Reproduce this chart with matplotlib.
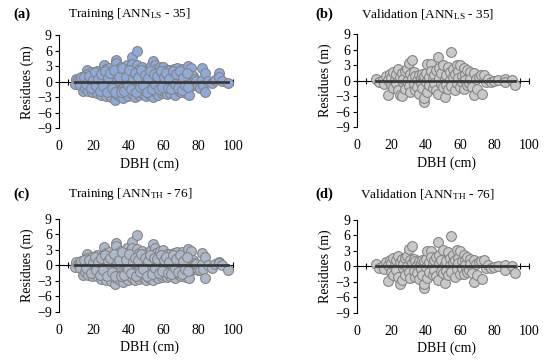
import matplotlib
matplotlib.use("Agg")
import matplotlib.pyplot as plt
from matplotlib.ticker import MultipleLocator

plt.rcParams['font.family'] = ['Liberation Serif', 'DejaVu Serif']
plt.rcParams['mathtext.fontset'] = 'custom'
plt.rcParams['mathtext.rm'] = 'Liberation Serif'
plt.rcParams['mathtext.it'] = 'Liberation Serif:italic'

# training set (shared DBH), residuals for ANN_LS and ANN_TH
dbh_train = [9, 10, 11, 12, 12, 13, 14, 15, 15, 16, 16, 16, 17, 17, 18, 18, 19, 19, 20, 20,
             21, 21, 22, 22, 23, 23, 24, 24, 25, 25, 26, 26, 26, 27, 27, 27, 28, 28, 29, 29,
             29, 30, 30, 30, 31, 31, 31, 32, 32, 32, 33, 33, 33, 33, 34, 34, 34, 35, 35, 35,
             36, 36, 36, 37, 37, 37, 38, 38, 38, 39, 39, 39, 40, 40, 40, 41, 41, 41, 42, 42,
             42, 43, 43, 43, 44, 44, 44, 45, 45, 45, 46, 46, 46, 47, 47, 47, 48, 48, 48, 49,
             49, 49, 50, 50, 50, 51, 51, 51, 52, 52, 52, 53, 53, 53, 54, 54, 54, 55, 55, 55,
             56, 56, 56, 57, 57, 57, 58, 58, 58, 59, 59, 59, 60, 60, 60, 61, 61, 62, 62, 62,
             63, 63, 64, 64, 64, 65, 65, 66, 66, 67, 67, 67, 68, 68, 69, 69, 70, 70, 70, 71,
             71, 72, 72, 73, 73, 74, 74, 75, 75, 76, 76, 77, 78, 78, 79, 80, 81, 82, 82, 83,
             84, 84, 86, 88, 90, 92, 92, 94, 97,
             14.5, 15.5, 17.5, 18.5, 19.5, 20.5, 21.5, 22.5, 23.5, 24.5, 25.5, 26.5, 27.5, 28.5, 29.5,
             30.5, 31.5, 32.5, 33.5, 34.5, 35.5, 36.5, 37.5, 38.5, 39.5, 40.5, 41.5, 42.5, 43.5, 44.5,
             45.5, 46.5, 47.5, 48.5, 49.5, 50.5, 51.5, 52.5, 53.5, 54.5, 55.5, 56.5, 57.5, 58.5, 59.5,
             60.5, 61.5, 62.5, 63.5, 64.5, 65.5, 66.5, 67.5, 68.5, 69.5, 70.5, 71.5, 72.5, 73.5, 74.5]
res_train_ls = [-0.4, 0.5, 0.3, 0.4, -0.6, 1.0, -1.7, 0.8, -1.2, 2.3, 1.5, -0.3, 0.2, -1.8, 1.1, -0.9, 1.8, -2.0, 0.6, -1.4,
                1.4, -0.5, 2.0, -2.2, 0.2, 1.0, -1.0, -2.5, 1.7, 0.4, 3.3, -1.6, -0.2, 2.4, 0.9, -2.7, -1.1, 1.5, 0.0, -2.0,
                2.6, 1.2, -0.7, -2.9, 2.1, 0.5, -1.6, -3.5, 1.8, -0.3, 4.2, 3.7, 0.9, -2.4, -1.0, 2.5, 0.2, 1.4, -1.8, -2.8,
                2.9, 0.7, -0.6, -3.1, 1.9, -1.3, 0.1, 2.3, -2.2, 3.2, 1.0, -0.8, -2.7, 1.6, -0.2, 2.7, 0.5, -1.5, 4.8, 3.4,
                -2.3, 1.2, -0.5, 2.0, -1.9, 0.8, -2.9, 6.0, 3.2, 1.5, -0.9, 2.4, -2.5, 0.3, 1.8, -1.4, 2.9, -0.1, -2.1, 1.1,
                -1.0, 0.6, 2.2, -2.7, -0.4, 1.5, -1.7, 0.1, 2.6, -0.8, -2.3, 3.0, 0.9, -1.3, 4.0, -2.9, 0.4, 3.3, 1.7, -1.0,
                -2.0, 0.7, 2.4, -0.3, 1.3, -2.6, 2.8, -1.5, 0.2, 1.0, -0.7, -2.2, 2.9, 0.5, -1.8, 1.9, -0.2, -2.4, 1.2, 2.3,
                -1.1, 0.4, 2.2, -2.1, 0.9, 1.6, -0.6, -1.6, 2.4, 0.3, -2.5, 1.2, 2.6, -0.9, 0.8, -1.8, 1.8, -0.3, -2.0, 2.5,
                0.5, -1.3, 1.3, 0.0, -2.2, 3.0, 1.0, -2.5, 0.4, 2.7, -0.8, 1.1, -0.4, 0.6, 0.2, -0.9, -1.2, 2.7, 0.3, -0.6,
                1.7, -1.9, 0.1, -0.2, 0.3, 1.6, 1.0, 0.2, -0.2,
                0.9, -0.4, 1.2, -1.3, 0.3, 1.8, -0.9, 0.6, -1.7, 1.5, -0.8, 2.0, -1.9, 0.7, 1.6,
                -1.2, 2.2, -1.9, 0.4, 1.0, -2.0, 2.6, -1.7, 1.0, -0.6, 2.2, -1.4, 0.5, 1.6, -2.0,
                1.0, -1.1, 2.2, -0.6, 1.3, -1.9, 0.8, 2.0, -1.5, 1.5, -0.5, 1.2, -1.4, 2.0, -1.0,
                0.9, 1.7, -1.3, 0.6, -1.5, 2.0, -0.4, 1.4, -1.2, 2.1, -1.6, 0.8, -0.6, 1.7, -1.0]
res_train_th = [-0.3, 0.6, 0.3, 0.5, -0.5, 0.9, -1.9, 0.7, -1.3, 2.1, 1.4, -0.2, 0.3, -1.9, 1.2, -1.0, 1.7, -2.0, 0.5, -1.5,
                1.3, -0.6, 1.9, -2.1, 0.3, 1.1, -1.1, -2.6, 1.8, 0.5, 3.5, -1.7, -0.3, 2.3, 1.0, -2.8, -1.2, 1.4, 0.1, -2.1,
                2.5, 1.3, -0.8, -3.0, 2.0, 0.6, -1.7, -3.6, 1.9, -0.2, 4.3, 3.7, 1.0, -2.5, -1.1, 2.4, 0.3, 1.5, -1.9, -2.9,
                2.8, 0.8, -0.5, -3.2, 2.0, -1.4, 0.2, 2.2, -2.3, 3.3, 1.1, -0.9, -2.8, 1.7, -0.1, 2.8, 0.6, -1.6, 4.5, 3.3,
                -2.4, 1.3, -0.4, 1.9, -2.0, 0.9, -2.9, 5.9, 3.1, 1.6, -1.0, 2.3, -2.6, 0.4, 1.7, -1.5, 2.8, 0.0, -2.2, 1.2,
                -1.1, 0.7, 2.1, -2.8, -0.5, 1.4, -1.8, 0.2, 2.5, -0.9, -2.4, 2.9, 1.0, -1.4, 4.2, -2.8, 0.5, 3.4, 1.8, -1.1,
                -2.1, 0.8, 2.3, -0.2, 1.4, -2.5, 2.7, -1.6, 0.3, 1.1, -0.8, -2.3, 3.0, 0.6, -1.9, 1.8, -0.1, -2.3, 1.3, 2.2,
                -1.2, 0.5, 2.1, -2.0, 1.0, 1.5, -0.7, -1.7, 2.3, 0.4, -2.4, 1.3, 2.5, -1.0, 0.9, -1.9, 1.7, -0.2, -2.1, 2.6,
                0.6, -1.4, 1.2, 0.1, -2.3, 3.1, 1.1, -2.4, 0.5, 2.8, -0.9, 1.0, -0.5, 0.5, 0.3, -1.0, -0.9, 2.3, 0.2, -0.7,
                1.6, -2.4, 0.0, -0.5, 0.2, 0.7, 0.5, 0.1, -1.0,
                1.0, -0.5, 1.1, -1.4, 0.4, 1.7, -1.0, 0.7, -1.8, 1.4, -0.9, 1.9, -2.0, 0.8, 1.5,
                -1.3, 2.1, -2.0, 0.5, 1.1, -2.1, 2.5, -1.8, 1.1, -0.7, 2.1, -1.5, 0.6, 1.5, -2.1,
                1.1, -1.2, 2.1, -0.7, 1.4, -2.0, 0.9, 1.9, -1.6, 1.4, -0.6, 1.3, -1.5, 1.9, -1.1,
                1.0, 1.6, -1.4, 0.7, -1.6, 1.9, -0.5, 1.3, -1.3, 2.0, -1.7, 0.9, -0.7, 1.6, -1.1]

# validation set (shared DBH), residuals for ANN_LS and ANN_TH
dbh_val = [11, 13, 15, 16, 17, 18, 18, 19, 20, 20, 21, 21, 22, 23, 23, 24, 24, 25, 25, 26,
           26, 27, 27, 28, 28, 29, 29, 30, 30, 31, 31, 32, 32, 33, 33, 34, 34, 35, 35, 36,
           36, 37, 37, 38, 38, 39, 39, 39, 40, 40, 41, 41, 42, 42, 43, 43, 44, 44, 45, 45,
           46, 46, 47, 47, 48, 48, 49, 49, 50, 50, 51, 51, 52, 52, 53, 53, 54, 54, 55, 55,
           56, 56, 57, 57, 58, 58, 59, 59, 60, 60, 61, 61, 62, 62, 63, 63, 64, 64, 65, 66,
           66, 67, 68, 68, 69, 70, 71, 72, 73, 74, 75, 76, 78, 80, 82, 86, 86, 90, 92]
res_val_ls = [0.3, -0.2, 0.2, -0.6, 0.9, -2.7, 0.1, 1.3, -0.9, 0.6, 1.7, -1.5, 0.2, 1.2, -0.5, 2.2, -1.9, -2.7, 0.8, -2.9,
              1.5, -0.3, 0.4, 1.8, -1.6, 2.2, 0.0, 3.4, -1.0, 1.2, -2.2, 4.0, 0.5, -0.7, 1.6, -1.9, 0.9, 0.2, -1.2, 1.1,
              -2.5, 0.6, -0.4, 1.3, -1.5, -4.1, -3.4, 0.9, -0.2, 1.5, 3.3, -2.2, 0.8, -0.9, 3.2, 1.9, -1.5, 0.3, 1.1, -0.5,
              2.0, -1.8, 4.6, -2.6, 0.6, 2.4, -0.7, 1.4, 3.1, -1.2, -3.1, 0.4, 1.0, -0.8, 2.6, -1.6, 0.2, 1.7, 5.6, -1.0,
              2.3, 0.8, -1.9, 1.2, 3.0, -0.4, 1.8, 0.5, 3.1, -1.3, 0.9, -0.2, 2.4, -1.6, 1.3, 0.1, 2.0, -0.9, -0.5, 1.6,
              0.4, -1.2, -2.8, 1.4, 0.3, -1.6, 0.7, 1.0, -2.5, 1.1, -0.3, 0.4, -0.2, 0.0, 0.2, 0.4, -0.2, 0.1, -0.8]
res_val_th = [0.4, -0.3, 0.1, -0.5, 0.8, -2.8, 0.2, 1.2, -1.0, 0.7, 1.6, -1.6, 0.3, 1.3, -0.6, 2.0, -2.0, -3.4, 0.9, -2.6,
              1.4, -0.4, 0.5, 1.7, -1.7, 2.1, 0.1, 3.3, -1.1, 1.3, -2.3, 3.9, 0.6, -0.8, 1.5, -2.0, 1.0, 0.3, -1.3, 1.0,
              -2.4, 0.7, -0.5, 1.2, -1.6, -4.2, -3.5, 1.0, -0.1, 1.4, 3.0, -2.3, 0.9, -1.0, 3.0, 1.8, -1.6, 0.4, 1.2, -0.6,
              1.9, -1.9, 4.7, -2.7, 0.7, 2.3, -0.8, 1.3, 3.2, -1.3, -3.2, 0.5, 1.1, -0.9, 2.8, -1.7, 0.3, 1.6, 5.9, -1.1,
              2.2, 0.9, -2.0, 1.3, 3.2, -0.5, 1.7, 0.6, 3.0, -1.4, 1.0, -0.3, 2.3, -1.5, 1.2, 0.2, 1.9, -1.0, -0.6, 1.5,
              0.5, -1.3, -3.0, 1.3, 0.4, -1.7, 0.8, 1.1, -2.5, 1.2, -0.4, 0.3, -0.3, -0.1, 0.1, 0.3, -0.6, 0.0, -1.3]

panels = [
    ('(a)', 'Training [ANN$_{\\mathrm{LS}}$ - 35]', dbh_train, res_train_ls, '#8eaadb'),
    ('(b)', 'Validation [ANN$_{\\mathrm{LS}}$ - 35]', dbh_val, res_val_ls, '#c9c9c9'),
    ('(c)', 'Training [ANN$_{\\mathrm{TH}}$ - 76]', dbh_train, res_train_th, '#adb9ca'),
    ('(d)', 'Validation [ANN$_{\\mathrm{TH}}$ - 76]', dbh_val, res_val_th, '#c9c9c9'),
]
# axes rectangles in figure fraction
rects = [
    (0.107, 0.638, 0.329, 0.270),
    (0.649, 0.641, 0.325, 0.270),
    (0.107, 0.128, 0.329, 0.270),
    (0.649, 0.125, 0.325, 0.270),
]
# panel tag / title anchor positions (figure fraction)
tag_pos = [(0.024, 0.960), (0.573, 0.960), (0.024, 0.460), (0.573, 0.460)]
title_x = [0.236, 0.777, 0.236, 0.777]

fig = plt.figure(figsize=(5.5, 3.6), dpi=100)
for (tag, title, x, y, fc), rect, tp, tx in zip(panels, rects, tag_pos, title_x):
    ax = fig.add_axes(rect)
    ax.scatter(x, y, s=50, facecolor=fc, edgecolor='#858585', linewidth=0.8, zorder=2)
    ax.plot([min(x), max(x)], [0, 0], color='#3a3a3a', linewidth=2.0, zorder=3)
    ax.set_xlim(0, 104)
    ax.set_ylim(-9.4, 9.4)
    for s in ('top', 'right'):
        ax.spines[s].set_visible(False)
    ax.spines['left'].set_bounds(-9, 9)
    ax.spines['left'].set_linewidth(0.8)
    ax.spines['bottom'].set_position(('data', 0))
    ax.spines['bottom'].set_bounds(0, 100)
    ax.spines['bottom'].set_linewidth(0.8)
    ax.spines['bottom'].set_zorder(1)
    ax.set_yticks([-9, -6, -3, 0, 3, 6, 9])
    ax.tick_params(axis='y', direction='out', length=3, width=0.8, labelsize=10, pad=2)
    ax.xaxis.set_major_locator(MultipleLocator(5))
    ax.tick_params(axis='x', direction='inout', length=4, width=0.8, labelbottom=False)
    sec = ax.secondary_xaxis(0.0)
    sec.set_xticks([0, 20, 40, 60, 80, 100])
    sec.spines['bottom'].set_visible(False)
    sec.tick_params(length=0, labelsize=10, pad=7)
    sec.set_xlabel('DBH (cm)', fontsize=10, labelpad=3)
    ax.set_ylabel('Residues (m)', fontsize=10, labelpad=2)
    fig.text(tx, tp[1], title, fontsize=9.5, ha='center', va='center')
    fig.text(tp[0], tp[1], tag, fontsize=10.5, fontweight='bold', ha='left', va='center')

fig.savefig('out.png', dpi=100)
